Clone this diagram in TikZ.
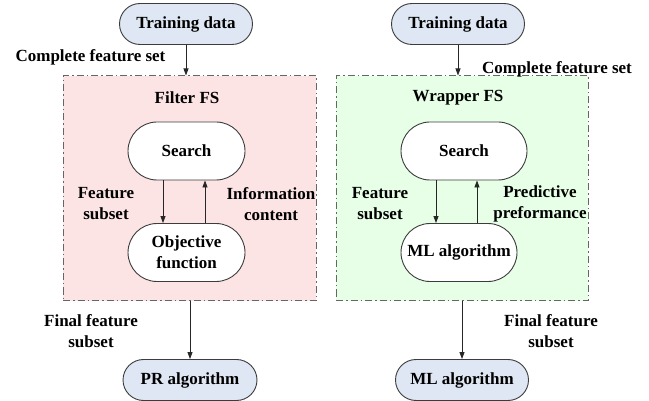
\documentclass[tikz,border=0pt]{standalone}
\usepackage{fontspec}
\setmainfont{Liberation Serif}
\usetikzlibrary{shapes.misc,arrows.meta}
\definecolor{tdblue}{RGB}{222,231,243}
\definecolor{pinkbg}{RGB}{253,228,228}
\definecolor{greenbg}{RGB}{230,255,230}
\definecolor{edgegray}{RGB}{60,60,60}
\tikzset{
  every node/.style={font=\fontsize{17}{21}\selectfont\bfseries},
  pill/.style={rounded rectangle, draw=edgegray, line width=0.9pt, inner sep=0pt},
  bluepill/.style={pill, fill=tdblue, minimum width=133pt, minimum height=41pt},
  whitepill/.style={pill, fill=white, minimum height=58pt, align=center},
  region/.style={draw=gray!80!black, line width=1pt, dash pattern=on 7pt off 3pt on 1.5pt off 3pt, inner sep=0pt},
  lbl/.style={align=center, inner sep=0pt},
  arr/.style={-{Triangle[length=7pt,width=5pt]}, line width=0.8pt, draw=black!85}
}
\begin{document}
\begin{tikzpicture}[x=1pt,y=-1pt]
\useasboundingbox (0,0) rectangle (649,401);
% regions
\node[region, fill=pinkbg, minimum width=253pt, minimum height=225pt] (pink) at (189.5,188.5) {};
\node[region, fill=greenbg, minimum width=252pt, minimum height=225pt] (green) at (462,188.5) {};
% top nodes
\node[bluepill] (td1) at (186,24) {Training data};
\node[bluepill] (td2) at (458,24) {Training data};
% region titles
\node[lbl] (t1) at (187,98) {Filter FS};
\node[lbl] (t2) at (458,98) {Wrapper FS};
% inner nodes
\node[whitepill, minimum width=117pt] (s1) at (186.5,151) {Search};
\node[whitepill, minimum width=117pt] (o1) at (186.5,252.5) {Objective\\function};
\node[whitepill, minimum width=126pt] (s2) at (464,151) {Search};
\node[whitepill, minimum width=116pt] (m2) at (459,252.5) {ML algorithm};
% bottom nodes
\node[bluepill, minimum width=134pt] (pr) at (190,380) {PR algorithm};
\node[bluepill] (ml) at (462,380) {ML algorithm};
% x positions of inner arrows
\coordinate (xa) at (163,0);
\coordinate (xb) at (205,0);
\coordinate (xc) at (436,0);
\coordinate (xd) at (477,0);
% connectors
\draw[arr] (td1.south) -- (td1.south |- pink.north);
\draw[arr] (td2.south) -- (td2.south |- green.north);
\draw[arr] (s1.south -| xa) -- (o1.north -| xa);
\draw[arr] (o1.north -| xb) -- (s1.south -| xb);
\draw[arr] (s2.south -| xc) -- (m2.north -| xc);
\draw[arr] (m2.north -| xd) -- (s2.south -| xd);
\draw[arr] (pink.south -| pr.north) -- (pr.north);
\draw[arr] (green.south -| ml.north) -- (ml.north);
% labels
\node[lbl] (c1) at (90.5,57) {Complete feature set};
\node[lbl] (c2) at (557,69) {Complete feature set};
\node[lbl] (f1) at (106,204) {Feature\\subset};
\node[lbl] (i1) at (271,204) {Information\\content};
\node[lbl] (f2) at (380,204) {Feature\\subset};
\node[lbl] (p2) at (540,204) {Predictive\\preformance};
\node[lbl] (ff1) at (91,331) {Final feature\\subset};
\node[lbl] (ff2) at (551,331) {Final feature\\subset};
\end{tikzpicture}
\end{document}
